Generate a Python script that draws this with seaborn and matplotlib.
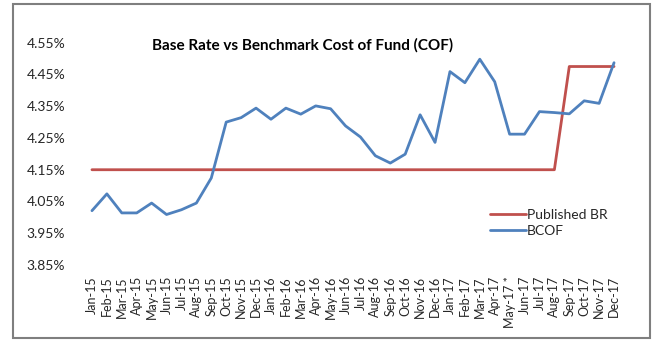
import matplotlib
matplotlib.use("Agg")
import matplotlib.pyplot as plt
import seaborn as sns
import pandas as pd
from matplotlib.patches import Rectangle

months = ["Jan-15", "Feb-15", "Mar-15", "Apr-15", "May-15", "Jun-15", "Jul-15", "Aug-15",
          "Sep-15", "Oct-15", "Nov-15", "Dec-15", "Jan-16", "Feb-16", "Mar-16", "Apr-16",
          "May-16", "Jun-16", "Jul-16", "Aug-16", "Sep-16", "Oct-16", "Nov-16", "Dec-16",
          "Jan-17", "Feb-17", "Mar-17", "Apr-17", "May-17 *", "Jun-17", "Jul-17", "Aug-17",
          "Sep-17", "Oct-17", "Nov-17", "Dec-17"]

published_br = [4.15] * 32 + [4.475] * 4

bcof = [4.021, 4.074, 4.014, 4.014, 4.045, 4.009, 4.024, 4.045,
        4.124, 4.300, 4.314, 4.344, 4.309, 4.344, 4.325, 4.351,
        4.342, 4.288, 4.253, 4.194, 4.171, 4.199, 4.323, 4.236,
        4.459, 4.424, 4.498, 4.427, 4.262, 4.262, 4.333, 4.330,
        4.326, 4.367, 4.359, 4.487]

yticks = [3.85, 3.95, 4.05, 4.15, 4.25, 4.35, 4.45, 4.55]

title = "Base Rate vs Benchmark Cost of Fund (COF)"

sns.set_style("white")
plt.rcParams["font.family"] = ["Lato", "DejaVu Sans"]

df = pd.DataFrame({"idx": list(range(len(months))), "Published BR": published_br, "BCOF": bcof})

fig = plt.figure(figsize=(6.67, 3.43), dpi=100)
ax = fig.add_axes([84.5 / 667, 1 - 265 / 343, (621.5 - 84.5) / 667, (265 - 42.7) / 343])

red = "#C0504D"
blue = "#4F81BD"
sns.lineplot(data=df, x="idx", y="Published BR", ax=ax, color=red, linewidth=2.0, label="Published BR")
sns.lineplot(data=df, x="idx", y="BCOF", ax=ax, color=blue, linewidth=2.0, label="BCOF")

ax.set_xlim(-0.5, len(months) - 0.5)
ax.set_ylim(3.85, 4.55)
ax.set_xticks(range(len(months)))
ax.set_xticklabels(months, rotation=90, fontsize=9, color="#262626")
ax.set_yticks(yticks)
ax.set_yticklabels([f"{v:.2f}%" for v in yticks], fontsize=10, color="#262626")
ax.tick_params(axis="both", length=0)
ax.tick_params(axis="y", pad=14)
ax.tick_params(axis="x", pad=8)
ax.set_xlabel("")
ax.set_ylabel("")
for s in ax.spines.values():
    s.set_visible(False)
ax.grid(False)

leg = ax.legend(loc="upper left", bbox_to_anchor=(484 / 667, 1 - 203 / 343),
                bbox_transform=fig.transFigure, frameon=False, fontsize=10,
                handlelength=2.6, handletextpad=0.1, labelspacing=0.3, borderaxespad=0)
for t in leg.get_texts():
    t.set_color("#262626")

fig.text(303 / 667, 1 - 45 / 343, title, ha="center", va="center",
         fontsize=11, fontweight="bold", color="black")

fig.patches.append(Rectangle((13 / 667, 1 - 338 / 343), 637 / 667, 334 / 343,
                             transform=fig.transFigure, fill=False,
                             edgecolor="#7f7f7f", linewidth=1.5))

fig.savefig("out.png", dpi=100)
